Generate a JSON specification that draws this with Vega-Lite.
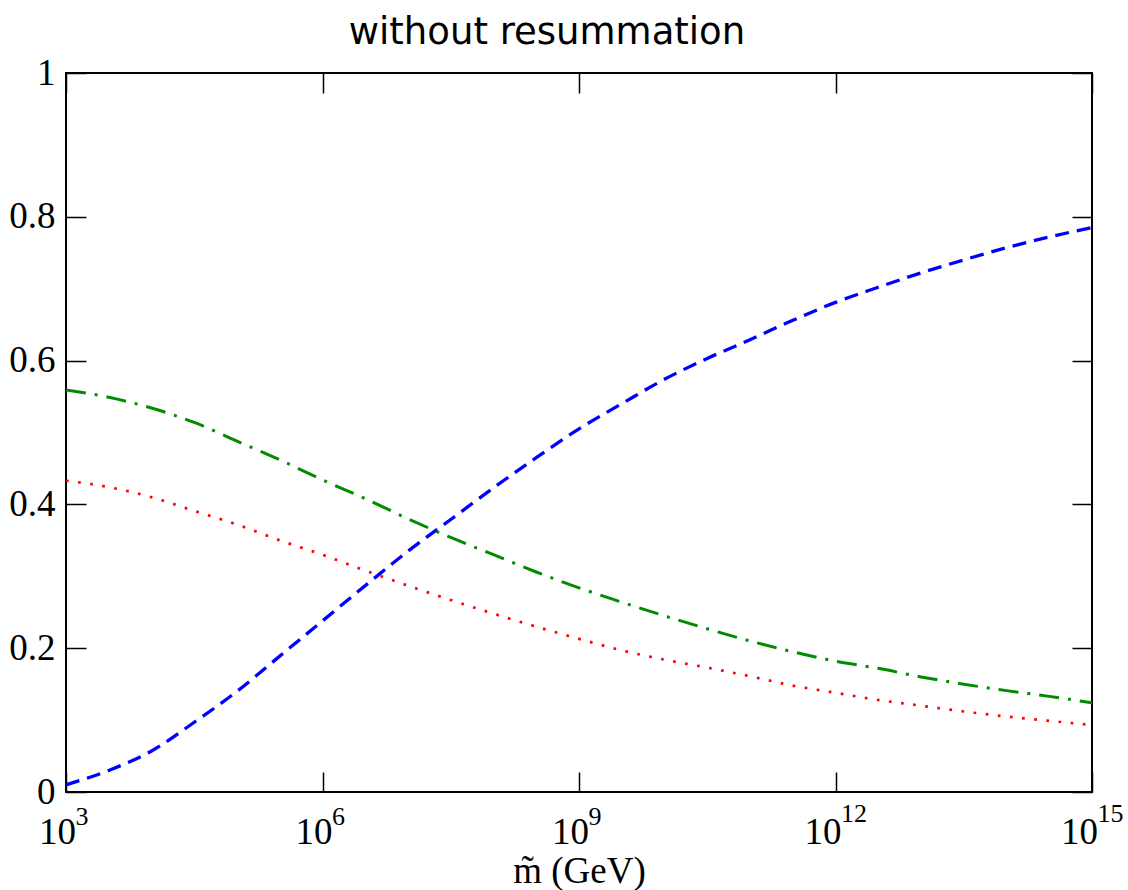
{
  "$schema": "https://vega.github.io/schema/vega-lite/v6.json",
  "width": 1026,
  "height": 719,
  "autosize": {"type": "none"},
  "padding": {"left": 66, "top": 73, "right": 36, "bottom": 98},
  "background": "white",
  "title": {
    "text": "without resummation",
    "font": "DejaVu Sans",
    "fontSize": 37,
    "fontWeight": "normal",
    "color": "black",
    "anchor": "middle",
    "dx": -32,
    "offset": 2
  },
  "config": {
    "view": {"stroke": "black", "strokeWidth": 2},
    "axis": {
      "grid": false,
      "domain": false,
      "tickColor": "black",
      "tickWidth": 1.5,
      "tickSize": -20,
      "labelFont": "Liberation Serif",
      "labelFontSize": 37,
      "labelColor": "black",
      "titleFont": "Liberation Serif",
      "titleFontSize": 37,
      "titleFontWeight": "normal",
      "titleColor": "black"
    }
  },
  "layer": [
    {
      "data": {
        "values": [
          {"m": 1e3, "s": "dashed", "v": 0.010},
          {"m": 3.1623e3, "s": "dashed", "v": 0.030},
          {"m": 1e4, "s": "dashed", "v": 0.057},
          {"m": 3.1623e4, "s": "dashed", "v": 0.097},
          {"m": 1e5, "s": "dashed", "v": 0.140},
          {"m": 3.1623e5, "s": "dashed", "v": 0.189},
          {"m": 1e6, "s": "dashed", "v": 0.238},
          {"m": 3.1623e6, "s": "dashed", "v": 0.287},
          {"m": 1e7, "s": "dashed", "v": 0.335},
          {"m": 3.1623e7, "s": "dashed", "v": 0.379},
          {"m": 1e8, "s": "dashed", "v": 0.423},
          {"m": 3.1623e8, "s": "dashed", "v": 0.465},
          {"m": 1e9, "s": "dashed", "v": 0.505},
          {"m": 3.1623e9, "s": "dashed", "v": 0.540},
          {"m": 1e10, "s": "dashed", "v": 0.574},
          {"m": 3.1623e10, "s": "dashed", "v": 0.603},
          {"m": 1e11, "s": "dashed", "v": 0.629},
          {"m": 3.1623e11, "s": "dashed", "v": 0.656},
          {"m": 1e12, "s": "dashed", "v": 0.681},
          {"m": 3.1623e12, "s": "dashed", "v": 0.702},
          {"m": 1e13, "s": "dashed", "v": 0.722},
          {"m": 3.1623e13, "s": "dashed", "v": 0.740},
          {"m": 1e14, "s": "dashed", "v": 0.757},
          {"m": 3.1623e14, "s": "dashed", "v": 0.772},
          {"m": 1e15, "s": "dashed", "v": 0.785},
          {"m": 1e3, "s": "dashdot", "v": 0.559},
          {"m": 3.1623e3, "s": "dashdot", "v": 0.549},
          {"m": 1e4, "s": "dashdot", "v": 0.534},
          {"m": 3.1623e4, "s": "dashdot", "v": 0.514},
          {"m": 1e5, "s": "dashdot", "v": 0.488},
          {"m": 3.1623e5, "s": "dashdot", "v": 0.462},
          {"m": 1e6, "s": "dashdot", "v": 0.434},
          {"m": 3.1623e6, "s": "dashdot", "v": 0.408},
          {"m": 1e7, "s": "dashdot", "v": 0.380},
          {"m": 3.1623e7, "s": "dashdot", "v": 0.354},
          {"m": 1e8, "s": "dashdot", "v": 0.330},
          {"m": 3.1623e8, "s": "dashdot", "v": 0.306},
          {"m": 1e9, "s": "dashdot", "v": 0.284},
          {"m": 3.1623e9, "s": "dashdot", "v": 0.264},
          {"m": 1e10, "s": "dashdot", "v": 0.245},
          {"m": 3.1623e10, "s": "dashdot", "v": 0.227},
          {"m": 1e11, "s": "dashdot", "v": 0.210},
          {"m": 3.1623e11, "s": "dashdot", "v": 0.195},
          {"m": 1e12, "s": "dashdot", "v": 0.182},
          {"m": 3.1623e12, "s": "dashdot", "v": 0.172},
          {"m": 1e13, "s": "dashdot", "v": 0.160},
          {"m": 3.1623e13, "s": "dashdot", "v": 0.150},
          {"m": 1e14, "s": "dashdot", "v": 0.141},
          {"m": 3.1623e14, "s": "dashdot", "v": 0.133},
          {"m": 1e15, "s": "dashdot", "v": 0.124},
          {"m": 1e3, "s": "dotted", "v": 0.433},
          {"m": 3.1623e3, "s": "dotted", "v": 0.424},
          {"m": 1e4, "s": "dotted", "v": 0.410},
          {"m": 3.1623e4, "s": "dotted", "v": 0.391},
          {"m": 1e5, "s": "dotted", "v": 0.372},
          {"m": 3.1623e5, "s": "dotted", "v": 0.350},
          {"m": 1e6, "s": "dotted", "v": 0.330},
          {"m": 3.1623e6, "s": "dotted", "v": 0.308},
          {"m": 1e7, "s": "dotted", "v": 0.287},
          {"m": 3.1623e7, "s": "dotted", "v": 0.267},
          {"m": 1e8, "s": "dotted", "v": 0.248},
          {"m": 3.1623e8, "s": "dotted", "v": 0.230},
          {"m": 1e9, "s": "dotted", "v": 0.213},
          {"m": 3.1623e9, "s": "dotted", "v": 0.197},
          {"m": 1e10, "s": "dotted", "v": 0.184},
          {"m": 3.1623e10, "s": "dotted", "v": 0.173},
          {"m": 1e11, "s": "dotted", "v": 0.161},
          {"m": 3.1623e11, "s": "dotted", "v": 0.148},
          {"m": 1e12, "s": "dotted", "v": 0.138},
          {"m": 3.1623e12, "s": "dotted", "v": 0.128},
          {"m": 1e13, "s": "dotted", "v": 0.120},
          {"m": 3.1623e13, "s": "dotted", "v": 0.112},
          {"m": 1e14, "s": "dotted", "v": 0.105},
          {"m": 3.1623e14, "s": "dotted", "v": 0.099},
          {"m": 1e15, "s": "dotted", "v": 0.093}
        ]
      },
      "layer": [
        {
          "mark": {"type": "line", "strokeCap": "butt", "interpolate": "monotone", "clip": true},
          "encoding": {
            "x": {
              "field": "m", "type": "quantitative",
              "scale": {"type": "log", "domain": [1e3, 1e15], "nice": false},
              "axis": {
                "orient": "bottom",
                "values": [1e3, 1e6, 1e9, 1e12, 1e15],
                "labelExpr": "'10'",
                "labelAlign": "right",
                "labelBaseline": "alphabetic",
                "labelOffset": {"condition": {"test": "datum.value >= 1e12", "value": 5.5}, "value": 9.5},
                "labelPadding": 71,
                "labelFlush": false,
                "labelOverlap": false,
                "title": "m̃ (GeV)",
                "titleBaseline": "alphabetic",
                "titleY": 90
              }
            },
            "y": {
              "field": "v", "type": "quantitative",
              "scale": {"domain": [0, 1], "nice": false, "zero": false},
              "axis": {
                "orient": "left",
                "values": [0, 0.2, 0.4, 0.6, 0.8, 1],
                "labelExpr": "datum.value == 0 ? '0' : datum.value == 1 ? '1' : format(datum.value, '.1f')",
                "labelPadding": 31,
                "labelFlush": false,
                "title": null
              }
            },
            "detail": {"field": "s"},
            "color": {
              "field": "s", "type": "nominal",
              "scale": {"domain": ["dashed", "dashdot", "dotted"], "range": ["#0000ff", "#008b00", "#ff0000"]},
              "legend": null
            },
            "strokeDash": {
              "field": "s", "type": "nominal",
              "scale": {"domain": ["dashed", "dashdot", "dotted"], "range": [[14, 8], [20, 9, 3, 9], [2.7, 9.5]]},
              "legend": null
            },
            "strokeWidth": {
              "field": "s", "type": "nominal",
              "scale": {"domain": ["dashed", "dashdot", "dotted"], "range": [3.3, 2.7, 2.7]},
              "legend": null
            }
          }
        },
        {
          "mark": {"type": "line", "strokeOpacity": 0},
          "encoding": {
            "x": {
              "field": "m", "type": "quantitative",
              "axis": {"orient": "top", "values": [1e3, 1e6, 1e9, 1e12, 1e15], "labels": false, "title": null}
            },
            "y": {
              "field": "v", "type": "quantitative",
              "axis": {"orient": "right", "values": [0, 0.2, 0.4, 0.6, 0.8, 1], "labels": false, "title": null}
            },
            "detail": {"field": "s"}
          }
        }
      ]
    },
    {
      "data": {"values": [{"t": 1e3, "e": "3"}, {"t": 1e6, "e": "6"}, {"t": 1e9, "e": "9"}]},
      "mark": {"type": "text", "align": "left", "baseline": "alphabetic", "font": "Liberation Serif", "fontSize": 26, "color": "black", "dx": 9.5, "dy": 33},
      "encoding": {
        "x": {"field": "t", "type": "quantitative", "axis": null},
        "y": {"datum": 0, "type": "quantitative", "axis": null},
        "text": {"field": "e"}
      }
    },
    {
      "data": {"values": [{"t": 1e12, "e": "12"}, {"t": 1e15, "e": "15"}]},
      "mark": {"type": "text", "align": "left", "baseline": "alphabetic", "font": "Liberation Serif", "fontSize": 26, "color": "black", "dx": 5.5, "dy": 30},
      "encoding": {
        "x": {"field": "t", "type": "quantitative", "axis": null},
        "y": {"datum": 0, "type": "quantitative", "axis": null},
        "text": {"field": "e"}
      }
    }
  ],
  "resolve": {"axis": {"x": "independent", "y": "independent"}}
}
